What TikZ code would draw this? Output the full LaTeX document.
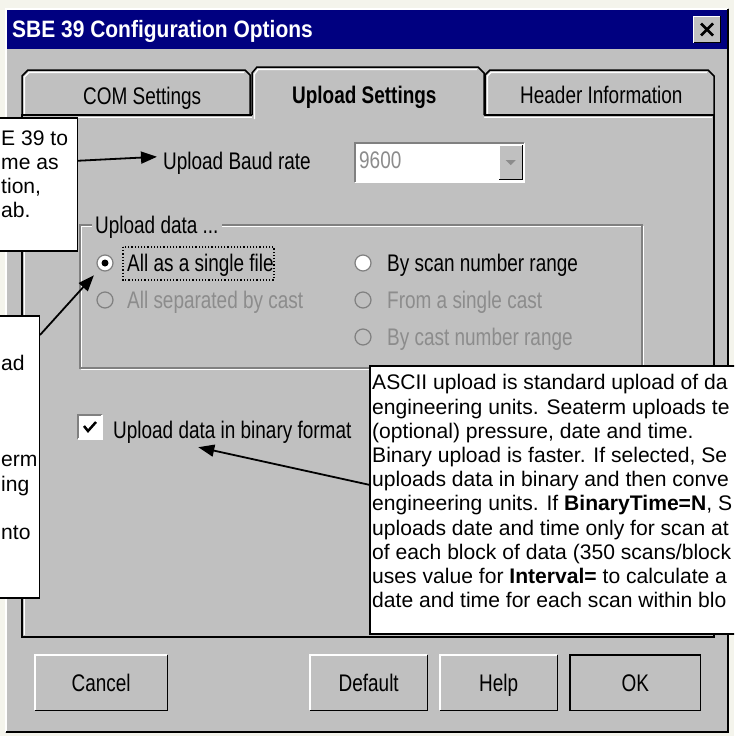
\documentclass[tikz,border=0pt]{standalone}
\usepackage{fontspec}
\setmainfont{Liberation Sans}
\newfontfamily\dlgfont[FakeStretch=0.79]{Liberation Sans}
\newfontfamily\ttlfont[FakeStretch=0.885]{Liberation Sans}
\usepackage{xcolor}
\usepackage{tikz}
\usetikzlibrary{arrows.meta,calc,positioning}

\definecolor{winbg}{RGB}{192,192,192}
\definecolor{winblue}{RGB}{0,0,128}
\definecolor{winshd}{RGB}{128,128,128}
\definecolor{wingray}{RGB}{140,140,140}
\definecolor{paper}{RGB}{244,244,236}

\begin{document}
\begin{tikzpicture}[x=1pt, y=-1pt,
  dlg/.style={font=\dlgfont\fontsize{24}{28}\selectfont, inner sep=0pt},
  lbl/.style={dlg, anchor=base west},
  dis/.style={lbl, text=wingray},
  btn/.style={dlg, fill=winbg, minimum height=55pt, text height=17pt, text depth=0pt, anchor=north west},
  radio/.style={circle, draw=winshd, line width=1.2pt, minimum size=16pt, inner sep=0pt},
  ron/.style={fill=white},
  roff/.style={fill=winbg},
  callout/.style={draw, line width=1.5pt, fill=white, inner sep=0pt},
  note/.style={font=\fontsize{21.1}{24.2}\selectfont, inner sep=0pt},
  arr/.style={-{Triangle[length=16pt, width=12pt]}, line width=1.8pt}
]

% 画布
\useasboundingbox (0,0) rectangle (734,736);
\clip (0,0) rectangle (734,736);
\fill[paper] (0,0) rectangle (734,736);

% 对话框外框与标题栏
\fill[winbg] (5,8) rectangle (729,733);
\draw[white, line width=1.5pt] (6,732) |- (728,9);
\draw[black, line width=2pt] (6,732) -| (728,9);
\fill[winblue] (7,10) rectangle (727,49);
\node[anchor=base west, inner sep=0pt, text=white,
  font=\ttlfont\bfseries\fontsize{23.7}{28}\selectfont] (title) at (12,37) {SBE 39 Configuration Options};

% 关闭按钮
\node[fill=winbg, minimum width=26pt, minimum height=26pt, inner sep=0pt] (close) at (707,29.5) {};
\draw[white, line width=1.2pt] (close.south west) |- (close.north east);
\draw[black, line width=1.2pt] (close.south west) -| (close.north east);
\draw[line width=2.6pt] ([shift={(-6pt,6pt)}]close.center) -- ([shift={(6pt,-6pt)}]close.center)
  ([shift={(-6pt,-6pt)}]close.center) -- ([shift={(6pt,6pt)}]close.center);

% 标签页与面板
\draw[line width=1.5pt, fill=winbg] (22,116) -- (22,76) -- (28,70) -- (245,70) -- (250,75) -- (250,116);
\draw[white, line width=1.2pt] (24.5,114) -- (24.5,77) -- (29,72.5) -- (244,72.5);
\draw[line width=1.5pt, fill=winbg] (485,116) -- (485,75) -- (490,70) -- (708,70) -- (714,76) -- (714,116);
\draw[white, line width=1.2pt] (487.5,114) -- (487.5,76) -- (491,72.5) -- (707,72.5);
\draw[line width=1.5pt, fill=winbg] (22,115) rectangle (714,637);
\draw[white, line width=1.2pt] (24.5,635) -- (24.5,117.5) -- (712,117.5);
\fill[winbg] (252,119) -- (252,73) -- (257,67) -- (478,67) -- (484,73) -- (484,119) -- cycle;
\draw[line width=1.5pt] (252,115) -- (252,73) -- (257,67) -- (478,67) -- (484,73) -- (484,115);
\draw[white, line width=1.2pt] (254.5,119) -- (254.5,74) -- (258,69.5) -- (477,69.5);

\node[lbl] (tcom) at (83,104) {COM Settings};
\node[lbl, font=\dlgfont\bfseries\fontsize{24}{28}\selectfont] (tupl) at (292,103) {Upload Settings};
\node[lbl] (thdr) at (520,103) {Header Information};

% 波特率
\node[lbl] (baud) at (163,169) {Upload Baud rate};
\node[fill=white, minimum width=169pt, minimum height=39pt, anchor=north west, inner sep=0pt] (combo) at (355,143) {};
\draw[winshd, line width=1.5pt] (combo.south west) |- (combo.north east);
\draw[white, line width=1.5pt] (combo.south west) -| (combo.north east);
\node[dis] (bval) at (359,168) {9600};
\node[fill=winbg, minimum width=23pt, minimum height=34pt, anchor=north east, inner sep=0pt]
  (drop) at ([shift={(-2pt,-2pt)}]combo.north east) {};
\draw[white, line width=1.2pt] (drop.south west) |- (drop.north east);
\draw[black, line width=1.2pt] (drop.south west) -| (drop.north east);
\fill[wingray] ([shift={(-5pt,2pt)}]drop.center) -- ([shift={(5pt,2pt)}]drop.center)
  -- ([shift={(0pt,-3pt)}]drop.center) -- cycle;

% 分组框 Upload data
\draw[white, line width=1.2pt] (81.5,226.5) rectangle (643.5,369.5);
\draw[winshd, line width=1.2pt] (80,225) rectangle (642,368);
\node[lbl, fill=winbg, inner xsep=3pt] (grp) at (92,233) {Upload data ...};

% 单选按钮
\foreach \nm/\xx/\yy/\st in {rsgl/105/263/ron, rsep/105/300/roff, rscan/363/263/ron, rcast/363/300/roff, rrng/363/337/roff}
  \node[radio, \st] (\nm) at (\xx,\yy) {};
\fill (rsgl) circle (3.5pt);

\node[lbl] (asgl) at (127,271.5) {All as a single file};
\node[dis] (asep) at (127,308.5) {All separated by cast};
\node[lbl] (ascan) at (387,271.5) {By scan number range};
\node[dis] (acast) at (387,308.5) {From a single cast};
\node[dis] (arng) at (387,345.5) {By cast number range};
\draw[dotted, line width=1.2pt] (123,247) rectangle (274,280);

% 复选框
\node[fill=white, minimum size=24pt, inner sep=0pt] (chk) at (90,427) {};
\draw[winshd, line width=1.5pt] (chk.south west) |- (chk.north east);
\draw[white, line width=1.5pt] (chk.south west) -| (chk.north east);
\draw[line width=2.5pt] ([shift={(-6pt,1pt)}]chk.center) -- ([shift={(-2pt,-4pt)}]chk.center)
  -- ([shift={(6pt,5pt)}]chk.center);
\node[lbl] (bin) at (113,438) {Upload data in binary format};

% 按钮
\foreach \nm/\tx/\xl/\w in {cancel/Cancel/35/132, dflt/Default/310/117, help/Help/440/117, ok/OK/570/130}{
  \node[btn, minimum width=\w pt] (\nm) at (\xl,655) {\tx};
  \draw[white, line width=1.5pt] (\nm.south west) |- (\nm.north east);
  \draw[black, line width=1.5pt] (\nm.south west) -| (\nm.north east);
}
\draw[line width=1.5pt] (ok.south west) rectangle (ok.north east);

% 说明框
\node[callout, minimum width=90pt, minimum height=133pt, anchor=north east] (cb1) at (78,117) {};
\node[callout, minimum width=60pt, minimum height=282pt, anchor=north east] (cb2) at (40,315) {};
\node[callout, minimum width=400pt, minimum height=268pt, anchor=north west] (cb3) at (369,365) {};

\foreach \tx/\yb [count=\i] in {E 39 to/145, me as/169.2, {tion,}/193.4, ab./217.6}
  \node[note, anchor=base west] (ta\i) at (1,\yb) {\tx};
\foreach \tx/\yb [count=\i] in {ad/370, erm/466.8, ing/491, nto/539.4}
  \node[note, anchor=base west] (tb\i) at (1,\yb) {\tx};

\node[note, align=left, anchor=north west] (tc) at (372,374.5) {%
  ASCII upload is standard upload of da\\
  engineering units. Seaterm uploads te\\
  (optional) pressure, date and time.\\
  Binary upload is faster. If selected, Se\\
  uploads data in binary and then conve\\
  engineering units. If \textbf{BinaryTime=N}, S\\
  uploads date and time only for scan at\\
  of each block of data (350 scans/block\\
  uses value for \textbf{Interval=} to calculate a\\
  date and time for each scan within blo};

% 箭头
\draw[arr] ([yshift=23.5pt]cb1.east) -- ([xshift=-6pt, yshift=6pt]baud.west);
\draw[arr, shorten >=8pt] ([yshift=-20pt]cb2.north east) -- (rsgl);
\draw[arr] ([yshift=15pt]cb3.west) -- ([xshift=-34pt, yshift=-4pt]bin.south);

\end{tikzpicture}
\end{document}
